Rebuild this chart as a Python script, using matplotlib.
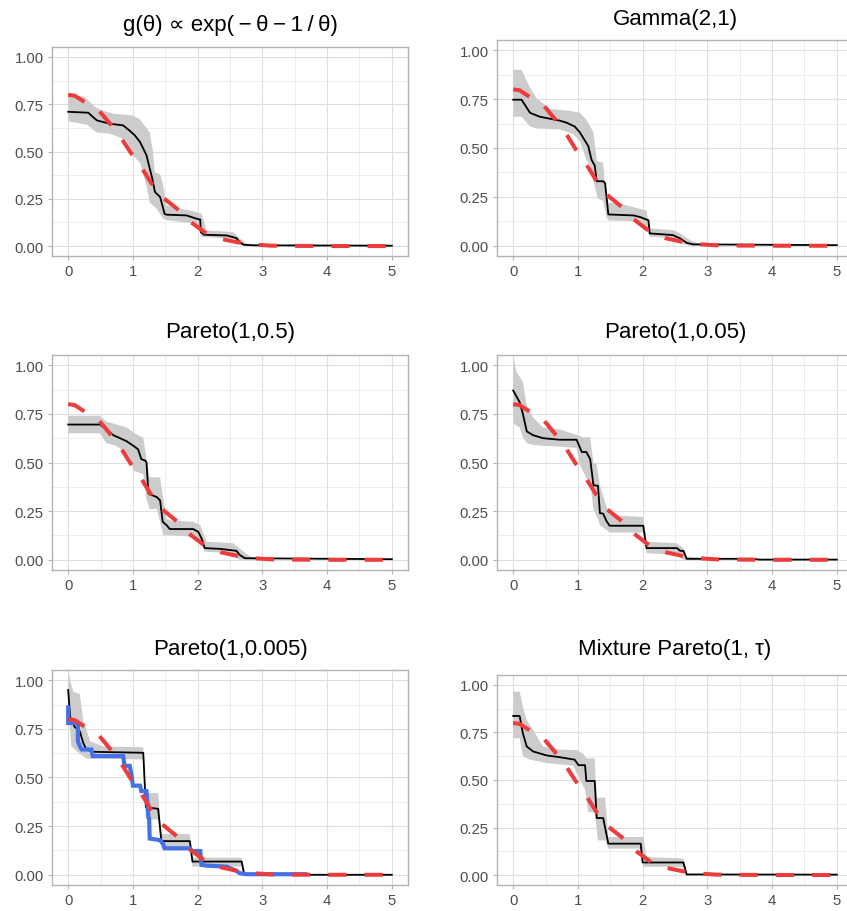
import numpy as np
import matplotlib
matplotlib.use("Agg")
import matplotlib.pyplot as plt
from matplotlib.ticker import MultipleLocator

plt.rcParams['font.family'] = ['Liberation Sans', 'DejaVu Sans']

# --- reference curve (red dashed), same in every panel ---
true_x = [0, 0.1, 0.23, 0.48, 0.65, 0.83, 0.96, 1.11, 1.29, 1.42, 1.68, 1.86,
          2.14, 2.35, 2.6, 2.91, 3.14, 3.5, 4.0, 5.0]
true_y = [0.80, 0.795, 0.767, 0.714, 0.646, 0.566, 0.497, 0.427, 0.33, 0.268,
          0.198, 0.136, 0.065, 0.039, 0.021, 0.007, 0.002, 0.001, 0.0, 0.0]

titles = ["g(θ) ∝ exp(\u2009−\u2009θ\u2009−\u20091\u2009/\u2009θ)", "Gamma(2,1)",
          "Pareto(1,0.5)", "Pareto(1,0.05)", "Pareto(1,0.005)", "Mixture Pareto(1, τ)"]

# --- panel 1 ---
p1_x = [0, 0.31, 0.44, 0.64, 0.85, 0.95, 1.03, 1.11, 1.16, 1.21, 1.26, 1.30, 1.34,
        1.42, 1.49, 1.52, 1.83, 1.98, 2.04, 2.05, 2.10, 2.45, 2.60, 2.65, 2.71, 2.86, 5.0]
p1_y = [0.71, 0.705, 0.665, 0.647, 0.638, 0.61, 0.585, 0.55, 0.515, 0.48, 0.41, 0.356,
        0.286, 0.26, 0.17, 0.166, 0.162, 0.145, 0.14, 0.074, 0.06, 0.056, 0.042, 0.02,
        0.007, 0.004, 0.002]
p1_hi_x = [0, 0.25, 0.4, 0.5, 0.7, 1.0, 1.11, 1.26, 1.31, 1.34, 1.42, 1.47, 1.52,
           1.98, 2.06, 2.14, 2.55, 2.65, 2.76, 3.2]
p1_hi_y = [0.80, 0.79, 0.74, 0.72, 0.70, 0.69, 0.67, 0.60, 0.50, 0.39, 0.38, 0.32,
           0.215, 0.18, 0.17, 0.083, 0.074, 0.04, 0.012, 0.005]
p1_lo_x = [0, 0.3, 0.44, 0.64, 0.9, 1.0, 1.11, 1.21, 1.26, 1.36, 1.47, 1.52, 1.98,
           2.06, 2.55, 2.65, 2.76, 3.2]
p1_lo_y = [0.66, 0.64, 0.60, 0.595, 0.56, 0.48, 0.44, 0.32, 0.23, 0.20, 0.145, 0.136,
           0.118, 0.048, 0.039, 0.012, 0.0, 0.0]

# --- panel 2 ---
p2_x = [0, 0.13, 0.26, 0.41, 0.72, 0.82, 0.95, 1.03, 1.16, 1.21, 1.26, 1.29, 1.39,
        1.42, 1.47, 1.86, 1.96, 2.09, 2.11, 2.37, 2.47, 2.58, 2.68, 2.78, 5.0]
p2_y = [0.747, 0.747, 0.68, 0.66, 0.64, 0.63, 0.61, 0.58, 0.51, 0.44, 0.41, 0.33,
        0.33, 0.32, 0.16, 0.155, 0.147, 0.13, 0.063, 0.057, 0.054, 0.037, 0.015,
        0.007, 0.003]
p2_hi_x = [0, 0.13, 0.26, 0.36, 0.57, 0.88, 1.03, 1.13, 1.24, 1.29, 1.31, 1.39, 1.42,
           1.47, 1.65, 2.06, 2.11, 2.47, 2.58, 2.73, 2.84, 2.99]
p2_hi_y = [0.90, 0.90, 0.81, 0.755, 0.70, 0.69, 0.68, 0.645, 0.58, 0.44, 0.43, 0.425,
           0.31, 0.22, 0.215, 0.18, 0.088, 0.08, 0.063, 0.029, 0.012, 0.003]
p2_lo_x = [0, 0.13, 0.26, 0.36, 0.72, 0.93, 1.03, 1.13, 1.19, 1.24, 1.31, 1.39, 1.44,
           1.47, 1.86, 2.06, 2.11, 2.47, 2.63, 2.73, 2.99]
p2_lo_y = [0.66, 0.66, 0.61, 0.60, 0.595, 0.57, 0.535, 0.44, 0.41, 0.33, 0.24, 0.23,
           0.147, 0.13, 0.125, 0.088, 0.046, 0.04, 0.007, 0.0, 0.0]

# --- panel 3 ---
p3_x = [0, 0.49, 0.59, 0.70, 0.90, 1.01, 1.08, 1.13, 1.19, 1.21, 1.24, 1.37, 1.42,
        1.46, 1.52, 1.57, 1.93, 2.01, 2.06, 2.11, 2.35, 2.60, 2.65, 2.73, 5.0]
p3_y = [0.695, 0.695, 0.67, 0.64, 0.61, 0.585, 0.568, 0.517, 0.51, 0.50, 0.34, 0.322,
        0.305, 0.195, 0.178, 0.158, 0.158, 0.144, 0.11, 0.06, 0.056, 0.046, 0.025,
        0.008, 0.003]
p3_hi_x = [0, 0.49, 0.59, 0.75, 0.90, 1.06, 1.16, 1.21, 1.26, 1.42, 1.47, 1.52, 1.57,
           1.93, 2.04, 2.14, 2.55, 2.71, 2.81, 3.0]
p3_hi_y = [0.74, 0.74, 0.71, 0.695, 0.68, 0.644, 0.627, 0.517, 0.424, 0.424, 0.314,
           0.21, 0.203, 0.195, 0.178, 0.093, 0.085, 0.042, 0.017, 0.005]
p3_lo_x = [0, 0.49, 0.59, 0.75, 0.95, 1.01, 1.16, 1.21, 1.26, 1.37, 1.42, 1.47, 1.93,
           2.04, 2.11, 2.5, 2.60, 2.65, 3.0]
p3_lo_y = [0.65, 0.65, 0.60, 0.585, 0.53, 0.458, 0.44, 0.31, 0.26, 0.26, 0.195, 0.127,
           0.119, 0.093, 0.042, 0.034, 0.008, 0.0, 0.0]

# --- panel 4 ---
p4_x = [0, 0.05, 0.10, 0.15, 0.21, 0.31, 0.46, 0.72, 0.98, 1.06, 1.13, 1.19, 1.24,
        1.31, 1.34, 1.39, 1.44, 1.49, 2.01, 2.06, 2.53, 2.58, 2.63, 2.68, 3.7, 3.8, 5.0]
p4_y = [0.87, 0.84, 0.81, 0.75, 0.66, 0.64, 0.625, 0.617, 0.617, 0.554, 0.554, 0.517,
        0.383, 0.38, 0.24, 0.237, 0.2, 0.175, 0.175, 0.06, 0.06, 0.046, 0.046, 0.005,
        0.005, 0.001, 0.001]
p4_hi_x = [0, 0.05, 0.15, 0.21, 0.31, 0.46, 0.72, 1.03, 1.08, 1.19, 1.24, 1.29, 1.34,
           1.42, 1.49, 2.01, 2.06, 2.53, 2.63, 2.68, 3.0]
p4_hi_y = [1.05, 0.966, 0.915, 0.79, 0.73, 0.68, 0.67, 0.636, 0.63, 0.63, 0.50, 0.49,
           0.383, 0.297, 0.23, 0.22, 0.093, 0.085, 0.06, 0.017, 0.005]
p4_lo_x = [0, 0.10, 0.15, 0.21, 0.31, 0.52, 0.98, 1.03, 1.13, 1.19, 1.24, 1.31, 1.34,
           1.44, 1.49, 2.01, 2.06, 2.53, 2.63, 3.0]
p4_lo_y = [0.70, 0.68, 0.63, 0.60, 0.59, 0.585, 0.575, 0.49, 0.42, 0.40, 0.26, 0.21,
           0.178, 0.153, 0.14, 0.14, 0.034, 0.025, 0.0, 0.0]

# --- panel 5 ---
p5_x = [0, 0.03, 0.05, 0.10, 0.18, 0.23, 0.28, 0.39, 1.16, 1.20, 1.39, 1.44, 1.88,
        1.92, 2.68, 2.72, 5.0]
p5_y = [0.95, 0.81, 0.80, 0.76, 0.737, 0.68, 0.644, 0.632, 0.627, 0.347, 0.339, 0.173,
        0.173, 0.068, 0.068, 0.0, 0.0]
p5_hi_x = [0, 0.03, 0.08, 0.18, 0.23, 0.34, 0.54, 1.16, 1.20, 1.39, 1.44, 1.88, 1.92,
           2.68, 2.73]
p5_hi_y = [1.05, 1.0, 0.94, 0.93, 0.80, 0.686, 0.66, 0.655, 0.42, 0.42, 0.21, 0.21,
           0.088, 0.088, 0.008]
p5_lo_x = [0, 0.03, 0.05, 0.13, 0.23, 0.28, 1.16, 1.20, 1.39, 1.44, 1.88, 1.92, 2.68,
           2.73]
p5_lo_y = [0.83, 0.745, 0.66, 0.636, 0.61, 0.597, 0.593, 0.288, 0.283, 0.136, 0.136,
           0.042, 0.042, 0.0]
p5_blue_x = [0, 0, 0.03, 0.15, 0.15, 0.18, 0.21, 0.36, 0.38, 0.85, 0.87, 0.95, 0.98,
             1.0, 1.11, 1.13, 1.21, 1.24, 1.25, 1.26, 1.42, 1.47, 1.49, 1.88, 1.91,
             2.04, 2.06, 2.14, 2.45, 2.5, 2.6, 2.65, 2.76, 3.66]
p5_blue_y = [0.86, 0.78, 0.78, 0.78, 0.687, 0.66, 0.644, 0.644, 0.61, 0.61, 0.56,
             0.56, 0.51, 0.458, 0.458, 0.43, 0.43, 0.297, 0.288, 0.186, 0.178, 0.156,
             0.136, 0.136, 0.122, 0.122, 0.051, 0.047, 0.042, 0.034, 0.02, 0.008,
             0.003, 0.003]

# --- panel 6 ---
p6_x = [0, 0.10, 0.15, 0.21, 0.31, 0.52, 0.72, 0.95, 1.01, 1.11, 1.13, 1.26, 1.29,
        1.39, 1.47, 1.97, 2.0, 2.63, 2.68, 5.0]
p6_y = [0.837, 0.837, 0.745, 0.676, 0.65, 0.629, 0.62, 0.607, 0.578, 0.578, 0.495,
        0.495, 0.30, 0.30, 0.165, 0.165, 0.066, 0.066, 0.003, 0.002]
p6_hi_x = [0, 0.10, 0.15, 0.21, 0.31, 0.46, 0.72, 0.98, 1.08, 1.13, 1.26, 1.29, 1.42,
           1.47, 2.01, 2.06, 2.63, 2.68]
p6_hi_y = [0.965, 0.965, 0.884, 0.815, 0.763, 0.676, 0.66, 0.657, 0.64, 0.614, 0.614,
           0.407, 0.407, 0.2, 0.2, 0.095, 0.087, 0.014]
p6_lo_x = [0, 0.10, 0.15, 0.26, 0.52, 0.93, 0.98, 1.11, 1.16, 1.26, 1.31, 1.42, 1.47,
           1.96, 2.01, 2.63, 2.68]
p6_lo_y = [0.72, 0.72, 0.624, 0.607, 0.589, 0.575, 0.537, 0.45, 0.33, 0.33, 0.182,
           0.182, 0.139, 0.139, 0.043, 0.043, 0.0]

panels = [
    (p1_x, p1_y, p1_hi_x, p1_hi_y, p1_lo_x, p1_lo_y),
    (p2_x, p2_y, p2_hi_x, p2_hi_y, p2_lo_x, p2_lo_y),
    (p3_x, p3_y, p3_hi_x, p3_hi_y, p3_lo_x, p3_lo_y),
    (p4_x, p4_y, p4_hi_x, p4_hi_y, p4_lo_x, p4_lo_y),
    (p5_x, p5_y, p5_hi_x, p5_hi_y, p5_lo_x, p5_lo_y),
    (p6_x, p6_y, p6_hi_x, p6_hi_y, p6_lo_x, p6_lo_y),
]

# layout in pixels: left, right, top, bottom, title centre y
W, H = 847, 912
boxes = [(52, 408, 48, 257, 25), (497, 853, 41, 257, 20),
         (52, 408, 356, 571, 333), (497, 853, 356, 571, 333),
         (52, 408, 671, 886, 649), (497, 853, 676, 886, 649)]

fig = plt.figure(figsize=(W / 100, H / 100), dpi=100)

for i, (box, data) in enumerate(zip(boxes, panels)):
    l, r, t, b, ty = box
    ax = fig.add_axes([l / W, 1 - b / H, (r - l) / W, (b - t) / H])
    lx, ly, hx, hy, lox, loy = data

    ax.fill(np.r_[hx, lox[::-1]], np.r_[hy, loy[::-1]], color='#CCCCCC', lw=0, zorder=2)
    ax.plot(lx, ly, color='black', lw=1.3, zorder=3)
    if i == 4:
        ax.plot(p5_blue_x, p5_blue_y, color='#4472E6', lw=3, zorder=4,
                solid_joinstyle='miter')
    ax.plot(true_x, true_y, color='#EE3B3B', lw=2.9, dashes=(4.5, 4.5),
            dash_capstyle='butt', zorder=5)

    ax.set_xlim(-0.25, 5.25)
    ax.set_ylim(-0.0525, 1.0525)
    ax.xaxis.set_major_locator(MultipleLocator(1))
    ax.xaxis.set_minor_locator(MultipleLocator(0.5))
    ax.yaxis.set_major_locator(MultipleLocator(0.25))
    ax.yaxis.set_minor_locator(MultipleLocator(0.125))
    ax.set_yticks([0, 0.25, 0.5, 0.75, 1.0])
    ax.set_yticklabels(['0.00', '0.25', '0.50', '0.75', '1.00'])
    ax.grid(which='major', color='#DEDEDE', lw=0.8, zorder=0)
    ax.grid(which='minor', color='#E6E6E6', lw=0.5, zorder=0)
    ax.set_axisbelow(True)
    ax.tick_params(which='major', length=2.9, width=0.8, color='#B3B3B3',
                   labelsize=10.7, labelcolor='#4D4D4D', pad=3)
    ax.tick_params(which='minor', length=0)
    for s in ax.spines.values():
        s.set_color('#B3B3B3')
        s.set_linewidth(1.0)

    fig.text(((l + r) / 2) / W, 1 - ty / H, titles[i], ha='center', va='center',
             fontsize=16, color='black')

fig.savefig('out.png', dpi=100, facecolor='white')
